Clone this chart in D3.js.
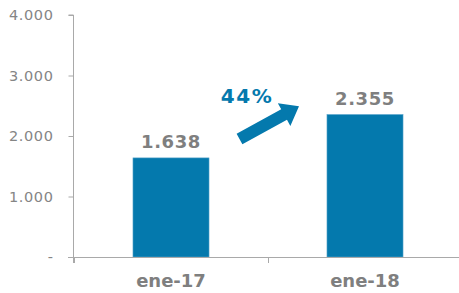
<!DOCTYPE html>
<html>
<head>
<meta charset="utf-8">
<script src="https://cdn.jsdelivr.net/npm/d3@7"></script>
<style>
  body { margin: 0; background: #fff; }
  svg { display: block; font-family: "DejaVu Sans", Verdana, sans-serif; }
</style>
</head>
<body>
<svg width="459" height="293"></svg>
<script>
// data
var categories = ["ene-17", "ene-18"];
var values = [1638, 2355];
var yTicks = [0, 1000, 2000, 3000, 4000];
var growthLabel = "44%";

var svg = d3.select("svg");
var blue = "#0479AD", grey = "#7f7f7f", axisGrey = "#a9a9a9";

// scales
var x = d3.scaleBand().domain(categories).range([74, 462]);
var y = d3.scaleLinear().domain([0, 4000]).range([257, 15]);
var barW = x.bandwidth() * 0.392;

var fmt = function(v) { return v === 0 ? "-" : d3.format(",")(v).replace(/,/g, "."); };

// y axis
var yAxis = svg.append("g")
    .attr("transform", "translate(73.5,0)")
    .call(d3.axisLeft(y).tickValues(yTicks).tickSize(5).tickPadding(15).tickFormat(fmt));
yAxis.select(".domain").attr("stroke", axisGrey).attr("d", "M-5," + y(4000) + "H0V" + (y(0) + 6));
yAxis.selectAll(".tick line").attr("stroke", axisGrey);
yAxis.selectAll(".tick text").attr("fill", "#858585")
    .style("font-size", "14.5px")
    .style("letter-spacing", "0.6px")
    .style("font-family", "DejaVu Sans, Verdana, sans-serif");

// bars
svg.selectAll("rect.bar")
    .data(values)
  .enter().append("rect")
    .attr("class", "bar")
    .attr("x", function(d, i) { return x(categories[i]) + (x.bandwidth() - barW) / 2; })
    .attr("y", function(d) { return y(d); })
    .attr("width", barW)
    .attr("height", function(d) { return y(0) - y(d); })
    .attr("fill", blue)
    .attr("stroke", "#5aa5cc")
    .attr("stroke-width", 0.6);

// x axis
svg.append("line")
    .attr("x1", 68).attr("x2", 459)
    .attr("y1", y(0) + 0.5).attr("y2", y(0) + 0.5)
    .attr("stroke", axisGrey);
svg.selectAll("line.xtick")
    .data(categories.concat([null]))
  .enter().append("line")
    .attr("class", "xtick")
    .attr("x1", function(d, i) { return Math.round(x.range()[0] + i * x.step()) + 0.5; })
    .attr("x2", function(d, i) { return Math.round(x.range()[0] + i * x.step()) + 0.5; })
    .attr("y1", y(0)).attr("y2", y(0) + 6)
    .attr("stroke", axisGrey);

svg.selectAll("text.xlab")
    .data(categories)
  .enter().append("text")
    .attr("class", "xlab")
    .attr("x", function(d) { return x(d) + x.bandwidth() / 2; })
    .attr("y", 287)
    .attr("text-anchor", "middle")
    .attr("fill", grey)
    .style("font-size", "18px")
    .style("font-weight", "bold")
    .text(function(d) { return d; });

// value labels
svg.selectAll("text.val")
    .data(values)
  .enter().append("text")
    .attr("class", "val")
    .attr("x", function(d, i) { return x(categories[i]) + x.bandwidth() / 2; })
    .attr("y", function(d) { return y(d) - 10; })
    .attr("text-anchor", "middle")
    .attr("fill", grey)
    .style("font-size", "18px")
    .style("font-weight", "bold")
    .style("letter-spacing", "0.6px")
    .text(function(d) { return fmt(d); });

// growth arrow between the bars
var x0 = x(categories[0]) + x.bandwidth() / 2 + 68.5, y0 = y(1950);
var x1 = x(categories[1]) + x.bandwidth() / 2 - 66, y1 = y(2490);
var len = Math.hypot(x1 - x0, y1 - y0),
    ang = Math.atan2(y1 - y0, x1 - x0) * 180 / Math.PI;
var sw = 6, hw = 13, hl = 17;
svg.append("polygon")
    .attr("transform", "translate(" + x0 + "," + y0 + ") rotate(" + ang + ")")
    .attr("points", [[0, -sw], [len - hl, -sw], [len - hl, -hw], [len, 0], [len - hl, hw], [len - hl, sw], [0, sw]].join(" "))
    .attr("fill", blue);

svg.append("text")
    .attr("x", 247)
    .attr("y", 103)
    .attr("text-anchor", "middle")
    .attr("fill", blue)
    .style("font-size", "20px")
    .style("font-weight", "bold")
    .style("letter-spacing", "1.5px")
    .text(growthLabel);
</script>
</body>
</html>
